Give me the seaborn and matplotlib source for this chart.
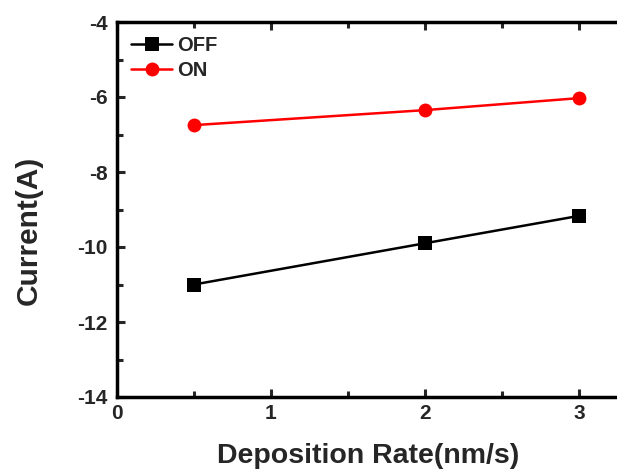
import matplotlib
matplotlib.use("Agg")
import matplotlib.pyplot as plt
import seaborn as sns
import pandas as pd
from matplotlib.ticker import MultipleLocator

rate = [0.5, 2, 3]
off_current = [-11.0, -9.9, -9.17]
on_current = [-6.75, -6.35, -6.03]

sns.set_style("white")
plt.rcParams['font.family'] = ['Liberation Sans', 'DejaVu Sans']
plt.rcParams['font.weight'] = 'bold'
plt.rcParams['axes.unicode_minus'] = False

df = pd.concat([
    pd.DataFrame({"rate": rate, "current": off_current, "state": "OFF"}),
    pd.DataFrame({"rate": rate, "current": on_current, "state": "ON"}),
])

fig = plt.figure(figsize=(6.17, 4.70), dpi=100)
ax = fig.add_axes([117/617, 73/470, 539/617, 375/470])

sns.lineplot(data=df, x="rate", y="current", hue="state", style="state",
             palette={"OFF": "black", "ON": "red"},
             markers={"OFF": "s", "ON": "o"}, dashes=False,
             markersize=10, markeredgewidth=0, linewidth=1.8, ax=ax)

ax.set_xlim(0, 3.5)
ax.set_ylim(-14, -4)
ax.xaxis.set_major_locator(MultipleLocator(1))
ax.xaxis.set_minor_locator(MultipleLocator(0.5))
ax.yaxis.set_major_locator(MultipleLocator(2))
ax.yaxis.set_minor_locator(MultipleLocator(1))
ax.tick_params(which='both', direction='in', width=2.2, labelsize=15)
ax.tick_params(axis='y', which='both', pad=7)
ax.tick_params(axis='x', which='both', pad=5)
ax.tick_params(which='major', length=6)
ax.tick_params(which='minor', length=4)
ax.tick_params(axis='both', which='both', bottom=True, left=True, top=True, right=True)
for lab in ax.get_xticklabels() + ax.get_yticklabels():
    lab.set_fontweight('bold')
for s in ax.spines.values():
    s.set_linewidth(2.5)
    s.set_color('black')

ax.set_xlabel("Deposition Rate(nm/s)", fontsize=20.5, fontweight='bold')
ax.xaxis.set_label_coords(0.466, -0.123)
ax.set_ylabel("Current(A)", fontsize=21.5, fontweight='bold')
ax.yaxis.set_label_coords(-0.137, 0.445)

leg = ax.legend(loc='upper left', frameon=False, fontsize=14.5, handlelength=2.05,
                borderaxespad=0.3, handletextpad=0.25, labelspacing=0.3,
                markerscale=1.0)
for t in leg.get_texts():
    t.set_fontweight('bold')

fig.savefig("out.png", dpi=100)
